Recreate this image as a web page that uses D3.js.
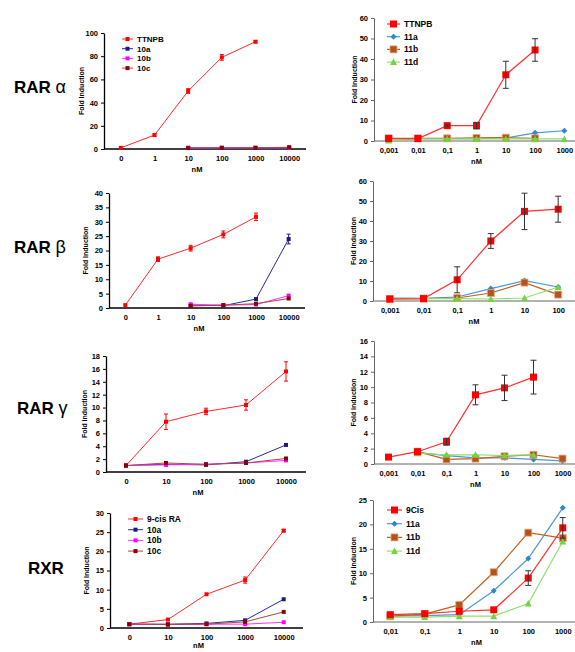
<!DOCTYPE html>
<html>
<head>
<meta charset="utf-8">
<script src="https://cdn.jsdelivr.net/npm/d3@7"></script>
<style>
  body { margin: 0; background: #fff; }
  svg { display: block; }
  text { font-family: "Liberation Sans", Arial, sans-serif; }
</style>
</head>
<body>
<div id="chart"></div>
<script>
// ---- data ----
// RAR alpha
var catsA1 = ["0", "1", "10", "100", "1000", "10000"];
var a1TTNPB = [1, 12, 50, 79, 92.5, null];
var a1TTNPBErr = [0, 1, 2, 2.5, 1, null];
var a1_10a = [null, null, 1, 1, 1, 1.2];
var a1_10b = [null, null, 1, 1, 1, 1];
var a1_10c = [null, null, 0.8, 1, 1, 1.5];

var catsA2 = ["0,001", "0,01", "0,1", "1", "10", "100", "1000"];
var a2TTNPB = [1.2, 1.2, 7.5, 7.5, 32.3, 44.4, null];
var a2TTNPBErr = [0, 0, 0.5, 1.6, 6.6, 5.5, null];
var a2_11a = [1.2, 1.2, 1.2, 1.2, 1.5, 4, 5];
var a2_11b = [1.3, 1.3, 1.3, 1.5, 1.6, 1.3, null];
var a2_11d = [0.2, 1, 1, 1, 1, 1, 1];

// RAR beta
var catsB1 = ["0", "1", "10", "100", "1000", "10000"];
var b1TTNPB = [1, 17, 20.8, 25.6, 31.7, null];
var b1TTNPBErr = [0, 0.8, 1, 1.2, 1.3, null];
var b1_10a = [null, null, 1, 0.8, 3.1, 24];
var b1_10aErr = [null, null, 0, 0, 0, 1.7];
var b1_10b = [null, null, 1.3, 1, 1.2, 4.3];
var b1_10c = [null, null, 0.7, 1, 1.5, 3.3];

var catsB2 = ["0,001", "0,01", "0,1", "1", "10", "100"];
var b2TTNPB = [1, 1.2, 10.6, 30, 44.8, 45.9];
var b2TTNPBErr = [0, 0, 6.5, 3.7, 9.1, 6.5];
var b2_11a = [1.5, 1.3, 2, 6.2, 10.2, 7];
var b2_11b = [1, 1.2, 1.5, 4, 9.2, 3.2];
var b2_11d = [1.5, 1.2, 1.2, 1, 1.5, 7];

// RAR gamma
var catsG1 = ["0", "10", "100", "1000", "10000"];
var g1TTNPB = [1, 7.8, 9.4, 10.4, 15.6];
var g1TTNPBErr = [0, 1.2, 0.5, 0.8, 1.5];
var g1_10a = [1, 1.2, 1.1, 1.6, 4.2];
var g1_10b = [1, 1.1, 1.2, 1.4, 1.8];
var g1_10c = [1, 1.4, 1.2, 1.4, 2.1];

var catsG2 = ["0,001", "0,01", "0,1", "1", "10", "100", "1000"];
var g2TTNPB = [0.9, 1.6, 2.9, 9, 9.9, 11.3, null];
var g2TTNPBErr = [0, 0, 0.45, 1.3, 1.65, 2.2, null];
var g2_11a = [null, 1.5, 1.1, 0.8, 0.8, 0.6, 0.4];
var g2_11b = [null, 1.6, 0.6, 0.7, 1.0, 1.2, 0.7];
var g2_11d = [null, 1.4, 1.2, 1.2, 1.1, 1.2, null];

// RXR
var catsR1 = ["0", "10", "100", "1000", "10000"];
var r1_9cis = [1, 2.2, 8.8, 12.5, 25.4];
var r1_9cisErr = [0, 0, 0, 0.8, 0.3];
var r1_10a = [1, 1, 1.2, 2, 7.5];
var r1_10b = [1, 0.9, 1, 1, 1.5];
var r1_10c = [1, 0.9, 1, 1.6, 4.2];

var catsR2 = ["0,01", "0,1", "1", "10", "100", "1000"];
var r2_9cis = [1.5, 1.7, 2.2, 2.5, 9, 19.3];
var r2_9cisErr = [0, 0, 0, 0, 1.5, 2.1];
var r2_11a = [1.2, 1.3, 1.5, 6.4, 13, 23.4];
var r2_11b = [1.2, 1.6, 3.5, 10.2, 18.3, 17.2];
var r2_11d = [1, 1, 1.2, 1.2, 3.8, 16.5];

var rowNames = ["RAR", "RAR", "RAR", "RXR"];
var rowGreek = ["\u03B1", "\u03B2", "\u03B3", ""];

// ---- styles ----
var styles = {
    red:  {line: "#ff2a2a", fill: "#ff0000", shape: "square", size: 4, err: "#ff0000"},
    s10a: {line: "#2b2b99", fill: "#1a1a80", shape: "square", size: 4},
    s10b: {line: "#ff33ff", fill: "#ff00ff", shape: "square", size: 4},
    s10c: {line: "#a84848", fill: "#8b0000", shape: "square", size: 4},
    bigRed: {line: "#ff3030", fill: "#ff0000", shape: "square", size: 7, err: "#333333"},
    s11a: {line: "#4a98d8", fill: "#2e86cc", shape: "diamond", size: 6},
    s11b: {line: "#c0601f", fill: "#b5521b", stroke: "#e8a77a", shape: "square", size: 7},
    s11d: {line: "#8ee06a", fill: "#72d443", shape: "triangle", size: 7}
};

var W = 575, H = 652;
var svg = d3.select("#chart").append("svg")
    .attr("width", W)
    .attr("height", H);

function markerPath(st) {
    var s = st.size;
    if (st.shape == "square") return d3.symbol(d3.symbolSquare, s * s)();
    if (st.shape == "diamond") return "M0," + (-s / 2) + "L" + (s / 2) + ",0L0," + (s / 2) + "L" + (-s / 2) + ",0Z";
    return "M0," + (-s / 2) + "L" + (s / 2) + "," + (s / 2 - 0.5) + "L" + (-s / 2) + "," + (s / 2 - 0.5) + "Z";
}

function drawPanel(p) {
    var g = svg.append("g");
    var x = d3.scalePoint().domain(p.cats).range([p.x0, p.x1]).padding(0.5);
    var y = d3.scaleLinear().domain([0, p.max]).range([p.yBot, p.yTop]);
    var big = p.big;
    var axisColor = big ? "#666" : "#000";
    var fs = 7.5;

    // y axis
    var yAxis = d3.axisLeft(y)
        .tickValues(d3.range(0, p.max + p.step / 2, p.step))
        .tickSize(3).tickSizeOuter(0).tickPadding(3);
    var ya = g.append("g").attr("transform", "translate(" + p.x0 + ",0)").call(yAxis);
    ya.select(".domain").attr("stroke", axisColor).attr("stroke-width", big ? 1 : 1.3);
    ya.selectAll(".tick line").attr("stroke", axisColor);
    ya.selectAll("text").attr("font-size", fs).attr("font-weight", "bold")
        .attr("font-family", "Liberation Sans, Arial, sans-serif").attr("fill", "#000");

    // x axis
    var xAxis = d3.axisBottom(x).tickSize(0).tickSizeOuter(0).tickPadding(7);
    var xa = g.append("g").attr("transform", "translate(0," + p.yBot + ")").call(xAxis);
    xa.select(".domain").attr("stroke", axisColor).attr("stroke-width", big ? 1 : 1.5)
        .attr("d", "M" + p.x0 + ",0H" + p.x1);
    xa.selectAll("text").attr("font-size", fs).attr("font-weight", "bold")
        .attr("font-family", "Liberation Sans, Arial, sans-serif").attr("fill", "#000");

    // axis titles
    g.append("text")
        .attr("x", (p.x0 + p.x1) / 2 - (big ? 0 : 8))
        .attr("y", Math.min(p.yBot + 23, H - 4))
        .attr("text-anchor", "middle")
        .attr("font-size", 7.5).attr("font-weight", "bold")
        .text("nM");
    g.append("text")
        .attr("transform", "translate(" + p.ylx + "," + ((p.yTop + p.yBot) / 2) + ") rotate(-90)")
        .attr("text-anchor", "middle")
        .attr("font-size", 7).attr("font-weight", "bold")
        .text(p.ylabel);

    // series
    var order = p.series.slice();
    if (big) order = order.slice(1).concat([order[0]]);
    order.forEach(function(s) {
        var st = styles[s.style];
        var pts = s.values.map(function(v, i) {
            return {c: p.cats[i], v: v, e: s.err ? s.err[i] : 0};
        });
        var line = d3.line()
            .defined(function(d) { return d.v != null; })
            .x(function(d) { return x(d.c); })
            .y(function(d) { return y(d.v); });
        g.append("path").datum(pts)
            .attr("fill", "none")
            .attr("stroke", st.line)
            .attr("stroke-width", big ? 1.2 : 1)
            .attr("d", line);
        var valid = pts.filter(function(d) { return d.v != null; });
        g.selectAll(null).data(valid).enter().append("path")
            .attr("transform", function(d) { return "translate(" + x(d.c) + "," + y(d.v) + ")"; })
            .attr("d", markerPath(st))
            .attr("fill", st.fill)
            .attr("stroke", st.stroke || "none")
            .attr("stroke-width", 0.8);
        var errs = valid.filter(function(d) { return d.e > 0; });
        var ec = st.err || st.fill;
        var cw = big ? 3 : 2;
        var eg = g.selectAll(null).data(errs).enter().append("g").attr("stroke", ec).attr("stroke-width", 1);
        eg.append("line")
            .attr("x1", function(d) { return x(d.c); }).attr("x2", function(d) { return x(d.c); })
            .attr("y1", function(d) { return y(d.v - d.e); }).attr("y2", function(d) { return y(d.v + d.e); });
        eg.append("line")
            .attr("x1", function(d) { return x(d.c) - cw; }).attr("x2", function(d) { return x(d.c) + cw; })
            .attr("y1", function(d) { return y(d.v + d.e); }).attr("y2", function(d) { return y(d.v + d.e); });
        eg.append("line")
            .attr("x1", function(d) { return x(d.c) - cw; }).attr("x2", function(d) { return x(d.c) + cw; })
            .attr("y1", function(d) { return y(d.v - d.e); }).attr("y2", function(d) { return y(d.v - d.e); });
    });

    // legend
    if (p.legend) {
        var L = p.legend;
        p.series.forEach(function(s, i) {
            var st = styles[s.style];
            var ly = L.y + i * L.dy;
            g.append("line")
                .attr("x1", L.x).attr("x2", L.x + L.w)
                .attr("y1", ly).attr("y2", ly)
                .attr("stroke", st.line).attr("stroke-width", big ? 1.2 : 1);
            g.append("path")
                .attr("transform", "translate(" + (L.x + L.w / 2) + "," + ly + ")")
                .attr("d", markerPath(st))
                .attr("fill", st.fill)
                .attr("stroke", st.stroke || "none").attr("stroke-width", 0.8);
            g.append("text")
                .attr("x", L.x + L.w + 4).attr("y", ly + 3)
                .attr("font-size", L.fs).attr("font-weight", "bold")
                .text(s.name);
        });
    }
}

var panels = [
    {cats: catsA1, x0: 104, x1: 306, yTop: 33, yBot: 149, max: 100, step: 20, ylx: 84, ylabel: "Fold Induction",
        series: [{name: "TTNPB", values: a1TTNPB, err: a1TTNPBErr, style: "red"},
                 {name: "10a", values: a1_10a, style: "s10a"},
                 {name: "10b", values: a1_10b, style: "s10b"},
                 {name: "10c", values: a1_10c, style: "s10c"}],
        legend: {x: 122, y: 39, dy: 9.7, w: 11, fs: 8}},
    {cats: catsA2, x0: 374, x1: 579, yTop: 18, yBot: 141, max: 60, step: 10, ylx: 357, ylabel: "Fold Induction", big: true,
        series: [{name: "TTNPB", values: a2TTNPB, err: a2TTNPBErr, style: "bigRed"},
                 {name: "11a", values: a2_11a, style: "s11a"},
                 {name: "11b", values: a2_11b, style: "s11b"},
                 {name: "11d", values: a2_11d, style: "s11d"}],
        legend: {x: 387, y: 24, dy: 12.7, w: 13, fs: 8.5}},
    {cats: catsB1, x0: 109, x1: 305, yTop: 193, yBot: 308, max: 40, step: 5, ylx: 88, ylabel: "Fold Induction",
        series: [{name: "TTNPB", values: b1TTNPB, err: b1TTNPBErr, style: "red"},
                 {name: "10a", values: b1_10a, err: b1_10aErr, style: "s10a"},
                 {name: "10b", values: b1_10b, style: "s10b"},
                 {name: "10c", values: b1_10c, style: "s10c"}]},
    {cats: catsB2, x0: 373, x1: 575, yTop: 181, yBot: 301, max: 60, step: 10, ylx: 356, ylabel: "Fold induction", big: true,
        series: [{name: "TTNPB", values: b2TTNPB, err: b2TTNPBErr, style: "bigRed"},
                 {name: "11a", values: b2_11a, style: "s11a"},
                 {name: "11b", values: b2_11b, style: "s11b"},
                 {name: "11d", values: b2_11d, style: "s11d"}]},
    {cats: catsG1, x0: 106, x1: 306, yTop: 356, yBot: 472, max: 18, step: 2, ylx: 87, ylabel: "Fold induction",
        series: [{name: "TTNPB", values: g1TTNPB, err: g1TTNPBErr, style: "red"},
                 {name: "10a", values: g1_10a, style: "s10a"},
                 {name: "10b", values: g1_10b, style: "s10b"},
                 {name: "10c", values: g1_10c, style: "s10c"}]},
    {cats: catsG2, x0: 374, x1: 577, yTop: 341, yBot: 464, max: 16, step: 2, ylx: 356, ylabel: "Fold induction", big: true,
        series: [{name: "TTNPB", values: g2TTNPB, err: g2TTNPBErr, style: "bigRed"},
                 {name: "11a", values: g2_11a, style: "s11a"},
                 {name: "11b", values: g2_11b, style: "s11b"},
                 {name: "11d", values: g2_11d, style: "s11d"}]},
    {cats: catsR1, x0: 110, x1: 303, yTop: 513, yBot: 628, max: 30, step: 5, ylx: 89, ylabel: "Fold Induction",
        series: [{name: "9-cis RA", values: r1_9cis, err: r1_9cisErr, style: "red"},
                 {name: "10a", values: r1_10a, style: "s10a"},
                 {name: "10b", values: r1_10b, style: "s10b"},
                 {name: "10c", values: r1_10c, style: "s10c"}],
        legend: {x: 128, y: 519, dy: 10.7, w: 15, fs: 8.5}},
    {cats: catsR2, x0: 373, x1: 580, yTop: 500, yBot: 622, max: 25, step: 5, ylx: 356, ylabel: "Fold induction", big: true,
        series: [{name: "9Cis", values: r2_9cis, err: r2_9cisErr, style: "bigRed"},
                 {name: "11a", values: r2_11a, style: "s11a"},
                 {name: "11b", values: r2_11b, style: "s11b"},
                 {name: "11d", values: r2_11d, style: "s11d"}],
        legend: {x: 387, y: 510, dy: 13.7, w: 15, fs: 8.5}}
];

panels.forEach(drawPanel);

// row labels: bold name, regular greek letter
var rowY = [93, 253, 414, 574];
var rowX = [14, 14, 17, 28];
var rl = svg.selectAll("text.row").data(rowNames).enter().append("text")
    .attr("class", "row")
    .attr("x", function(d, i) { return rowX[i]; })
    .attr("y", function(d, i) { return rowY[i]; })
    .attr("font-size", 17)
    .attr("fill", "#000");
rl.append("tspan").attr("font-weight", "bold").text(function(d, i) { return rowGreek[i] ? d + " " : d; });
rl.append("tspan").attr("font-size", 18).text(function(d, i) { return rowGreek[i]; });
</script>
</body>
</html>
